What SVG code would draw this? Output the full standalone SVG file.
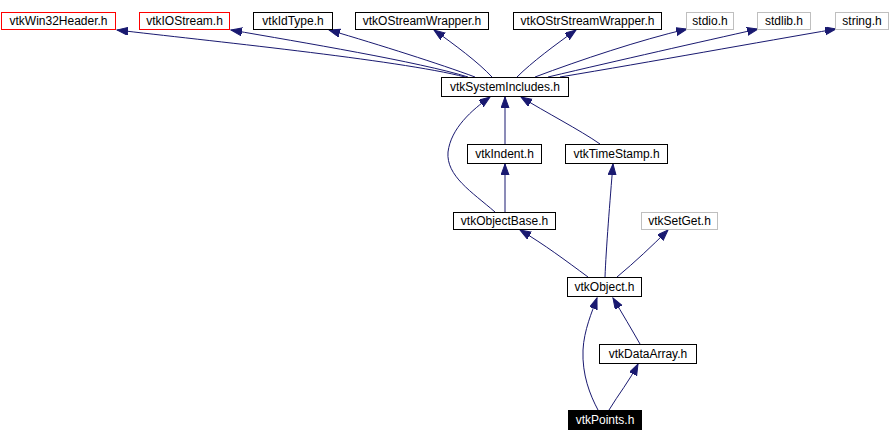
<svg xmlns="http://www.w3.org/2000/svg" width="890" height="442" viewBox="0 0 890 442">
<style>
.n rect{fill:#fff;stroke:#000;stroke-width:1}
.n.red rect{stroke:#ff0000}
.n.gray rect{stroke:#bfbfbf}
.n.cur rect{fill:#000;stroke:#000}
.n text{font-family:"Liberation Sans",Arial,sans-serif;font-size:12px;text-anchor:middle;fill:#000}
.n.cur text{fill:#fff}
.e path{fill:none;stroke:#191970;stroke-width:1;marker-end:url(#ah)}
</style>
<defs>
<marker id="ah" markerUnits="userSpaceOnUse" markerWidth="12" markerHeight="10" refX="11" refY="4" orient="auto">
<path d="M0,0 L11,4 L0,8 Z" fill="#191970" stroke="#191970"/>
</marker>
</defs>
<rect width="890" height="442" fill="#fff"/>
<g id="edges" class="e">
<path d="M465,77 C400,60 200,40 117,30"/>
<path d="M468,77 C420,62 300,42 231,30"/>
<path d="M475,77 C440,64 380,45 329,30"/>
<path d="M492,77 C478,62 455,45 434,30"/>
<path d="M517,77 C532,62 555,45 576,30"/>
<path d="M535,77 C580,60 640,40 687,29"/>
<path d="M548,77 C620,60 700,42 758,29"/>
<path d="M560,77 C650,62 760,42 836,29"/>
<path d="M505,144 L505,97"/>
<path d="M600,144 C580,130 545,112 521,97"/>
<path d="M495,212 C472,192 446,176 448,152 C451,128 472,110 490,97"/>
<path d="M505,212 L505,164"/>
<path d="M605,277 C606,250 610,200 613,164"/>
<path d="M588,277 C565,260 545,245 520,230"/>
<path d="M617,277 C635,262 652,246 668,230"/>
<path d="M598,410 C590,395 582,375 583,350 C584,330 592,312 597,298"/>
<path d="M640,344 C632,330 622,313 613,298"/>
<path d="M609,410 C618,395 630,380 638,364"/>
</g>
<g id="vtkWin32Header" class="n red"><rect x="1.5" y="12.5" width="114" height="17"/><text x="58.5" y="25">vtkWin32Header.h</text></g>
<g id="vtkIOStream" class="n red"><rect x="139.5" y="12.5" width="90" height="17"/><text x="184.5" y="25">vtkIOStream.h</text></g>
<g id="vtkIdType" class="n"><rect x="253.5" y="12.5" width="79" height="17"/><text x="293" y="25">vtkIdType.h</text></g>
<g id="vtkOStreamWrapper" class="n"><rect x="355.5" y="12.5" width="133" height="17"/><text x="422" y="25">vtkOStreamWrapper.h</text></g>
<g id="vtkOStrStreamWrapper" class="n"><rect x="513.5" y="12.5" width="148" height="17"/><text x="587.5" y="25">vtkOStrStreamWrapper.h</text></g>
<g id="stdio" class="n gray"><rect x="686.5" y="12.5" width="47" height="17"/><text x="710" y="25">stdio.h</text></g>
<g id="stdlib" class="n gray"><rect x="757.5" y="12.5" width="53" height="17"/><text x="784" y="25">stdlib.h</text></g>
<g id="string" class="n gray"><rect x="835.5" y="12.5" width="53" height="17"/><text x="862" y="25">string.h</text></g>
<g id="vtkSystemIncludes" class="n"><rect x="441.5" y="77.5" width="127" height="19"/><text x="505" y="91">vtkSystemIncludes.h</text></g>
<g id="vtkIndent" class="n"><rect x="467.5" y="144.5" width="74" height="19"/><text x="504.5" y="158">vtkIndent.h</text></g>
<g id="vtkTimeStamp" class="n"><rect x="565.5" y="144.5" width="102" height="19"/><text x="616.5" y="158">vtkTimeStamp.h</text></g>
<g id="vtkObjectBase" class="n"><rect x="453.5" y="212.5" width="102" height="17"/><text x="504.5" y="225">vtkObjectBase.h</text></g>
<g id="vtkSetGet" class="n gray"><rect x="641.5" y="212.5" width="76" height="17"/><text x="679.5" y="225">vtkSetGet.h</text></g>
<g id="vtkObject" class="n"><rect x="567.5" y="277.5" width="74" height="19"/><text x="604.5" y="291">vtkObject.h</text></g>
<g id="vtkDataArray" class="n"><rect x="599.5" y="344.5" width="97" height="19"/><text x="648" y="358">vtkDataArray.h</text></g>
<g id="vtkPoints" class="n cur"><rect x="568.5" y="410.5" width="73" height="19"/><text x="605" y="424">vtkPoints.h</text></g>
</svg>
